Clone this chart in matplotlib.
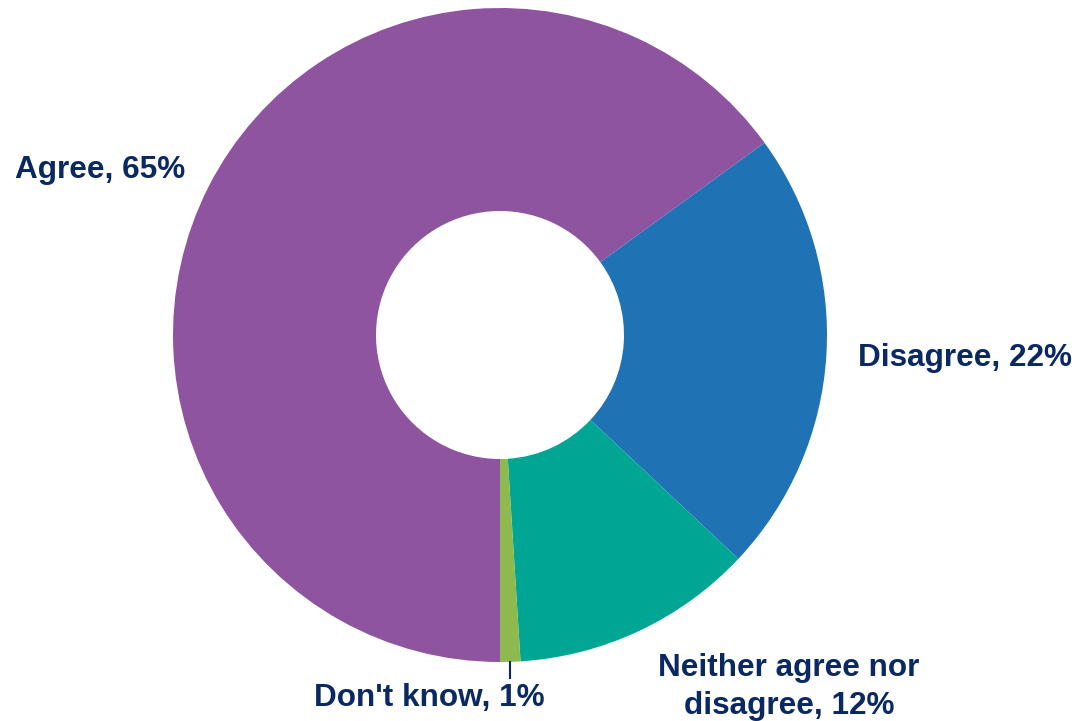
import matplotlib.pyplot as plt

labels = ["Agree", "Disagree", "Neither agree nor\ndisagree", "Don't know"]
shares = [65, 22, 12, 1]
colours = ["#8E549F", "#1F73B4", "#00A693", "#8DB94F"]

text_colour = "#0A2862"
H = 721

fig = plt.figure(figsize=(10.78, 7.21), dpi=100)
ax = fig.add_axes([0, 0, 1, 1])
ax.set_xlim(0, 1078)
ax.set_ylim(0, H)
ax.set_aspect("equal")
ax.set_axis_off()

ax.pie(shares, colors=colours, startangle=270, counterclock=False,
       center=(500, H - 335), radius=327,
       wedgeprops=dict(width=327 - 124, linewidth=0))
ax.set_xlim(0, 1078)
ax.set_ylim(0, H)

font = dict(family=["Liberation Sans", "DejaVu Sans"], fontsize=22.7,
            fontweight="bold", color=text_colour)

# label positions in pixel coordinates (x, y from top)
label_pos = [(100, 170), (965, 358), (789, 687), (429, 698)]
for name, share, (x, y) in zip(labels, shares, label_pos):
    ax.text(x, H - y, f"{name}, {share}%", ha="center", va="center",
            linespacing=1.35, **font)

# leader line for the smallest slice
ax.plot([510, 510], [H - 662, H - 678], color=text_colour, lw=1.5)

fig.savefig("out.png", dpi=100)
